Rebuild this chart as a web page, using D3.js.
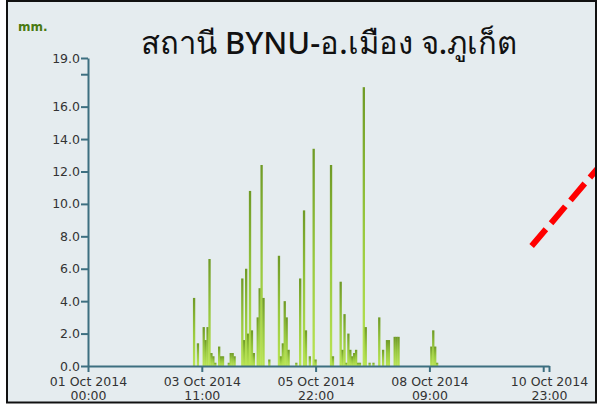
<!DOCTYPE html>
<html>
<head>
<meta charset="utf-8">
<script src="https://cdn.jsdelivr.net/npm/d3@7"></script>
<style>
  body { margin: 0; background: #fff; }
  svg { display: block; }
</style>
</head>
<body>
<svg id="chart" width="597" height="404"></svg>
<script>
// rainfall per hour (mm.)
let rainTimes = [
    "2014-10-03 07:00", "2014-10-03 09:00", "2014-10-03 12:00", "2014-10-03 13:00",
    "2014-10-03 14:00", "2014-10-03 15:00", "2014-10-03 16:00", "2014-10-03 17:00",
    "2014-10-03 18:00", "2014-10-03 20:00", "2014-10-03 21:00", "2014-10-03 22:00",
    "2014-10-04 01:00", "2014-10-04 02:00", "2014-10-04 03:00", "2014-10-04 04:00",
    "2014-10-04 08:00", "2014-10-04 09:00", "2014-10-04 10:00", "2014-10-04 11:00",
    "2014-10-04 12:00", "2014-10-04 13:00", "2014-10-04 14:00", "2014-10-04 16:00",
    "2014-10-04 17:00", "2014-10-04 18:00", "2014-10-04 19:00", "2014-10-04 22:00",
    "2014-10-05 03:00", "2014-10-05 04:00", "2014-10-05 05:00", "2014-10-05 06:00",
    "2014-10-05 07:00", "2014-10-05 08:00", "2014-10-05 12:00", "2014-10-05 14:00",
    "2014-10-05 16:00", "2014-10-05 17:00", "2014-10-05 19:00", "2014-10-05 21:00",
    "2014-10-05 22:00", "2014-10-06 06:00", "2014-10-06 07:00", "2014-10-06 11:00",
    "2014-10-06 12:00", "2014-10-06 13:00", "2014-10-06 14:00", "2014-10-06 15:00",
    "2014-10-06 16:00", "2014-10-06 17:00", "2014-10-06 18:00", "2014-10-06 19:00",
    "2014-10-06 20:00", "2014-10-06 21:00", "2014-10-06 23:00", "2014-10-07 00:00",
    "2014-10-07 02:00", "2014-10-07 04:00", "2014-10-07 07:00", "2014-10-07 09:00",
    "2014-10-07 11:00", "2014-10-07 12:00", "2014-10-07 15:00", "2014-10-07 16:00",
    "2014-10-07 17:00", "2014-10-08 10:00", "2014-10-08 11:00", "2014-10-08 12:00",
    "2014-10-08 13:00"
];
let rainValues = [
    4.2, 1.4, 2.4, 1.6,
    2.4, 6.6, 0.8, 0.6,
    0.2, 1.2, 0.6, 0.6,
    0.2, 0.8, 0.8, 0.6,
    5.4, 1.6, 6.0, 2.0,
    10.8, 2.2, 0.8, 3.0,
    4.8, 12.4, 4.2, 0.4,
    6.8, 0.6, 1.4, 4.0,
    3.0, 1.0, 0.2, 5.4,
    9.6, 2.2, 0.6, 13.4,
    0.4, 12.4, 0.6, 5.2,
    1.0, 3.2, 0.2, 2.0,
    1.0, 0.6, 0.8, 1.0,
    0.2, 0.2, 17.2, 2.4,
    0.2, 0.2, 3.0, 1.0,
    1.6, 1.6, 1.8, 1.8,
    1.8, 1.2, 2.2, 1.2,
    0.2
];

let xStart = "2014-10-01 00:00";
let xEnd = "2014-10-10 23:00";
let xTickTimes = ["2014-10-01 00:00", "2014-10-03 11:00", "2014-10-05 22:00",
    "2014-10-08 09:00", "2014-10-10 20:00", "2014-10-10 23:00"];
let xTickShown = [true, true, true, true, false, true];
let yTicks = [0, 2, 4, 6, 8, 10, 12, 14, 16, 18, 19];
let yTickShown = [true, true, true, true, true, true, true, true, true, false, true];
let yMax = 19;

let titleText = "สถานี BYNU-อ.เมือง จ.ภูเก็ต";
let unitText = "mm.";

// red dashed annotation, in data units
let markTimes = ["2014-10-10 14:00", "2014-10-12 01:00"];
let markValues = [7.4, 12.3];

let parseTime = d3.utcParse("%Y-%m-%d %H:%M");
let records = rainTimes.map((t, i) => ({ time: parseTime(t), value: rainValues[i] }));

function render() {
    let svg = d3.select("#chart");

    // panel background
    svg.append("rect")
        .attr("x", 7)
        .attr("y", 1)
        .attr("width", 589)
        .attr("height", 402)
        .attr("fill", "#e5ecef");

    let defs = svg.append("defs");
    let grad = defs.append("linearGradient")
        .attr("id", "barGrad")
        .attr("x1", 0).attr("y1", 0)
        .attr("x2", 0).attr("y2", 1);
    grad.append("stop").attr("offset", "0%").attr("stop-color", "#6f9a26");
    grad.append("stop").attr("offset", "50%").attr("stop-color", "#98c83e");
    grad.append("stop").attr("offset", "100%").attr("stop-color", "#bae555");

    let xScale = d3.scaleUtc()
        .domain([parseTime(xStart), parseTime(xEnd)])
        .range([88, 549]);
    let yScale = d3.scaleLinear()
        .domain([0, yMax])
        .range([366, 58]);

    let hourPx = xScale(d3.utcHour.offset(parseTime(xStart), 1)) - xScale(parseTime(xStart));

    svg.append("text")
        .attr("x", 329)
        .attr("y", 54)
        .attr("font-family", "'Noto Sans', sans-serif")
        .attr("font-size", "31px")
        .attr("font-weight", 500)
        .attr("fill", "#111")
        .style("text-anchor", "middle")
        .text(titleText);

    svg.append("text")
        .attr("x", 18)
        .attr("y", 31)
        .attr("font-family", "'DejaVu Sans', sans-serif")
        .attr("font-size", "12px")
        .attr("font-weight", "bold")
        .attr("fill", "#4a7a12")
        .text(unitText);

    // bars
    svg.selectAll(".bar")
        .data(records)
        .enter()
        .append("rect")
        .classed("bar", true)
        .attr("x", d => xScale(d.time) - hourPx * 0.6)
        .attr("y", d => yScale(d.value))
        .attr("width", hourPx * 1.2)
        .attr("height", d => yScale(0) - yScale(d.value))
        .attr("fill", "url(#barGrad)");

    let axisColor = "#3d6f80";

    let yAxis = svg.append("g")
        .attr("transform", "translate(88,0)")
        .call(d3.axisLeft(yScale)
            .tickValues(yTicks)
            .tickSize(7)
            .tickSizeOuter(0)
            .tickPadding(1)
            .tickFormat((d, i) => yTickShown[i] ? d3.format(".1f")(d) : ""));

    let xAxis = svg.append("g")
        .attr("transform", "translate(0,366)")
        .call(d3.axisBottom(xScale)
            .tickValues(xTickTimes.map(parseTime))
            .tickSize(6)
            .tickSizeOuter(0)
            .tickFormat(() => ""));

    [yAxis, xAxis].forEach(g => {
        g.select(".domain").attr("stroke", axisColor).attr("stroke-width", 2);
        g.selectAll(".tick line").attr("stroke", axisColor).attr("stroke-width", 2);
    });

    yAxis.selectAll(".tick text")
        .attr("font-family", "'DejaVu Sans', sans-serif")
        .attr("font-size", "12.5px")
        .attr("fill", "#333");

    let fmtDay = d3.utcFormat("%d %b %Y");
    let fmtHour = d3.utcFormat("%H:%M");
    xAxis.selectAll(".tick").each(function (d, i) {
        if (!xTickShown[i]) return;
        let t = d3.select(this).select("text")
            .attr("font-family", "'DejaVu Sans', sans-serif")
            .attr("font-size", "12.5px")
            .attr("fill", "#333")
            .attr("y", 0)
            .attr("dy", null);
        t.append("tspan").attr("x", 0).attr("y", 20).text(fmtDay(d));
        t.append("tspan").attr("x", 0).attr("y", 34).text(fmtHour(d));
    });

    // red dashed annotation
    svg.append("line")
        .attr("x1", xScale(parseTime(markTimes[0])))
        .attr("y1", yScale(markValues[0]))
        .attr("x2", xScale(parseTime(markTimes[1])))
        .attr("y2", yScale(markValues[1]))
        .attr("stroke", "#ff0000")
        .attr("stroke-width", 6)
        .attr("stroke-dasharray", "22,8");

    // frame
    svg.append("rect")
        .attr("x", 0).attr("y", 402)
        .attr("width", 597).attr("height", 2)
        .attr("fill", "#fff");
    svg.append("rect")
        .attr("x", 7)
        .attr("y", 1)
        .attr("width", 589)
        .attr("height", 401.5)
        .attr("fill", "none")
        .attr("stroke", "#111")
        .attr("stroke-width", 2);
}

render();
</script>
</body>
</html>
